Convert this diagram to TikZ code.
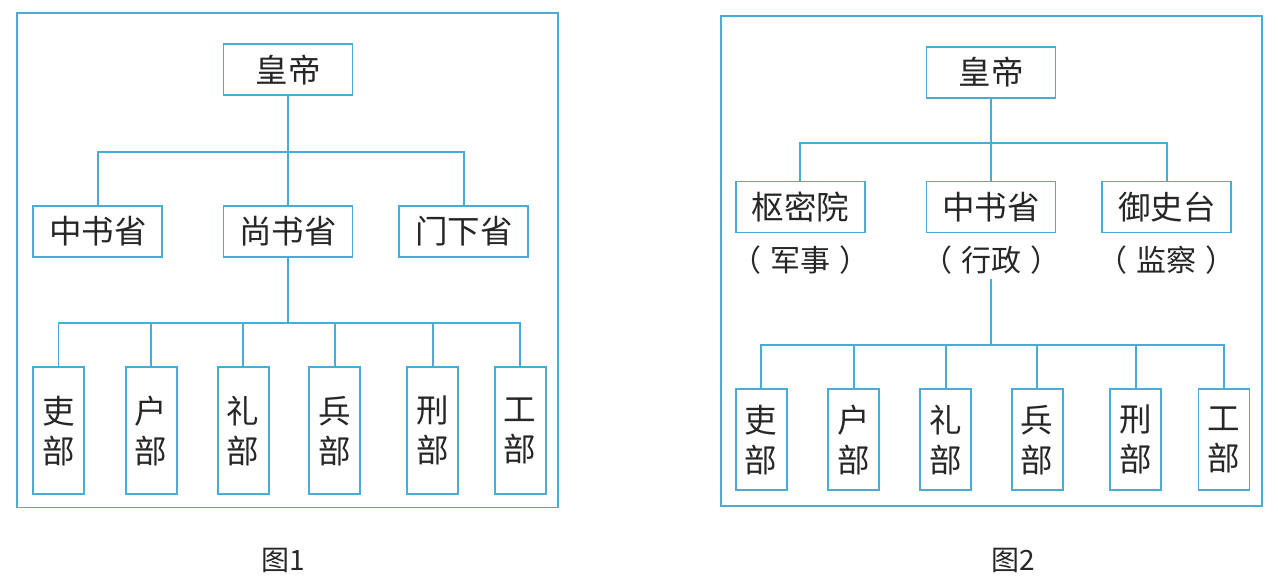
\documentclass[tikz,border=0pt]{standalone}
\usepackage{fontspec}
\setmainfont{Noto Sans CJK SC}
\usepackage{xcolor}
\definecolor{lblue}{RGB}{72,172,214}

\begin{document}
\begin{tikzpicture}[x=1pt,y=-1pt]
      \useasboundingbox(0,0) rectangle (1278,587);
      \tikzset{V/.style = {shape=rectangle, draw=lblue, line width=1.8pt, inner sep=0pt, minimum width=129pt, minimum height=51pt, text=black!85, font=\fontsize{32.5}{40}\selectfont}}
      \tikzset{D/.style = {V, minimum width=51pt, minimum height=127pt, align=center}}
      \tikzset{L/.style = {inner sep=5pt, text=black!85, font=\fontsize{30}{34}\selectfont}}
      \tikzset{E/.style = {draw=lblue, line width=1.8pt}}
      %% figure 1
      \draw[E](17.3,13.3) rectangle (558.3,507.5);
      \node[V](h1) at (288,69.7) {皇帝};
      \node[V](s10) at (97.8,231.3) {中书省};
      \node[V](s11) at (288,231.3) {尚书省};
      \node[V](s12) at (463.8,231.3) {门下省};
      \node[D](b10) at (58.5,430.8) {吏\\部};
      \node[D](b11) at (151.2,430.8) {户\\部};
      \node[D](b12) at (243.2,430.8) {礼\\部};
      \node[D](b13) at (334.8,430.8) {兵\\部};
      \node[D](b14) at (432.7,430.8) {刑\\部};
      \node[D](b15) at (520.2,430.8) {工\\部};
      \coordinate (c1) at (288,151.7);
      \coordinate (c2) at (288,322.7);
      \draw[E](h1) to (s11);
      \draw[E](s10.north) |- (c1) -| (s12.north);
      \draw[E](s11) to (c2);
      \draw[E](b10.north) |- (c2) -| (b15.north);
      \draw[E](b11.north) to (b11.north |- c2);
      \draw[E](b12.north) to (b12.north |- c2);
      \draw[E](b13.north) to (b13.north |- c2);
      \draw[E](b14.north) to (b14.north |- c2);
      \node[text=black!85, font=\fontsize{28}{34}\selectfont](t1) at (283,560) {图1};
      %% figure 2
      \tikzset{D/.style = {V, minimum width=51pt, minimum height=101pt, align=center}}
      \draw[E](720.7,15.7) rectangle (1262.3,506);
      \node[V](h2) at (991,72.2) {皇帝};
      \node[V](s20) at (800.3,207) {枢密院};
      \node[V](s21) at (991,207) {中书省};
      \node[V](s22) at (1166.8,207) {御史台};
      \node[L](l20) at (800.3,260) {（\hspace{9pt}军事\hspace{9pt}）};
      \node[L](l21) at (991,260) {（\hspace{9pt}行政\hspace{9pt}）};
      \node[L](l22) at (1166.8,260) {（\hspace{9pt}监察\hspace{9pt}）};
      \node[D](b20) at (761.2,439.8) {吏\\部};
      \node[D](b21) at (853.8,439.8) {户\\部};
      \node[D](b22) at (945.7,439.8) {礼\\部};
      \node[D](b23) at (1037.2,439.8) {兵\\部};
      \node[D](b24) at (1135.8,439.8) {刑\\部};
      \node[D](b25) at (1224,439.8) {工\\部};
      \coordinate (c3) at (991,143.3);
      \coordinate (c4) at (991,345);
      \draw[E](h2) to (s21);
      \draw[E](s20.north) |- (c3) -| (s22.north);
      \draw[E](l21) to (c4);
      \draw[E](b20.north) |- (c4) -| (b25.north);
      \draw[E](b21.north) to (b21.north |- c4);
      \draw[E](b22.north) to (b22.north |- c4);
      \draw[E](b23.north) to (b23.north |- c4);
      \draw[E](b24.north) to (b24.north |- c4);
      \node[text=black!85, font=\fontsize{28}{34}\selectfont](t2) at (1013,560) {图2};
    \end{tikzpicture}
\end{document}
